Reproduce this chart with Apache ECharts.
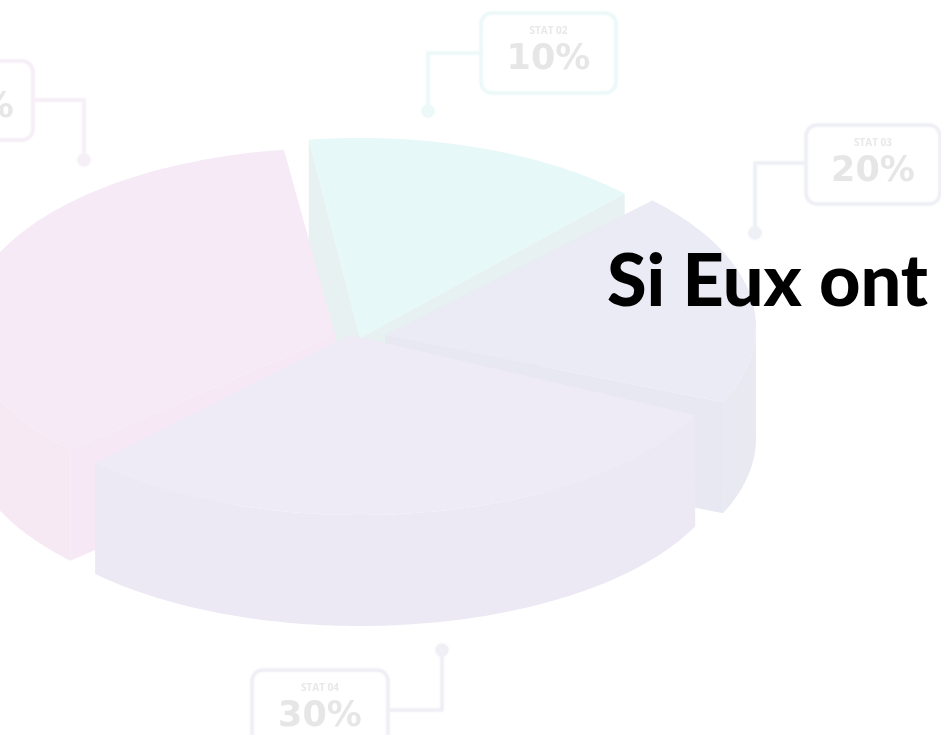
<!DOCTYPE html>
<html style="height: 100%">
<head>
    <meta charset="utf-8">
    <title>Si Eux ont</title>
    <script src="https://cdn.jsdelivr.net/npm/echarts@6/dist/echarts.min.js"></script>
</head>
<body style="height: 100%; margin: 0; background: #fff">
    <div id="chart" style="width: 941px; height: 735px"></div>
    <script>
        // data: visible slice shares, clockwise from the lower left
        const sliceNames = ['STAT 01', 'STAT 02', 'STAT 03', 'STAT 04'];
        const sliceShares = [35, 15, 19, 31];
        const statLabels = ['40%', '10%', '20%', '30%'];

        // exploded slices: rim centre (cx, cy) and the point where the cuts meet (ax, ay)
        const sliceLayout = [
            { cx: 335, cy: 326, ax: 335, ay: 335, ry: 178, top: '#f5eaf5', wall: '#f6e9f4', cut: '#f6e9f5' },
            { cx: 360, cy: 320, ax: 360, ay: 338, ry: 182, top: '#e6f8f7', wall: '#e7f1f2', cut: '#e7f1f2' },
            { cx: 388, cy: 327, ax: 385, ay: 335, ry: 182, top: '#ebebf5', wall: '#e9e9f1', cut: '#e8e8f2' },
            { cx: 360, cy: 345, ax: 350, ay: 335, ry: 170, top: '#eeebf7', wall: '#ece9f4', cut: '#ece9f4' }
        ];
        const drawOrder = [1, 2, 0, 3];
        const RX = 368;
        const DEPTH = 111;
        const START_ANGLE = 136;

        function sliceAngles(index) {
            const total = sliceShares.reduce((sum, v) => sum + v, 0);
            const before = sliceShares.slice(0, index).reduce((sum, v) => sum + v, 0);
            const start = START_ANGLE + before / total * 360;
            return [start, start + sliceShares[index] / total * 360];
        }

        function rimPoint(layout, deg, drop) {
            const t = deg * Math.PI / 180;
            return [layout.cx + RX * Math.cos(t), layout.cy + layout.ry * Math.sin(t) + drop];
        }

        function poly(points, fill) {
            return { type: 'polygon', shape: { points: points }, style: { fill: fill }, silent: true };
        }

        function renderSlice(params, api) {
            const index = api.value(0);
            const layout = sliceLayout[index];
            const [a0, a1] = sliceAngles(index);
            const rim = [];
            for (let a = a0; a < a1; a += 1) rim.push(a);
            rim.push(a1);

            const centre = [layout.ax, layout.ay];
            const centreLow = [layout.ax, layout.ay + DEPTH];
            const children = [];
            // the two cut faces
            [a0, a1].forEach(a => {
                children.push(poly([centre, rimPoint(layout, a, 0), rimPoint(layout, a, DEPTH), centreLow], layout.cut));
            });
            // outer wall, only the stretches turned towards us
            let front = [];
            rim.forEach(a => {
                if (Math.sin(a * Math.PI / 180) > -0.02) front.push(a);
            });
            if (front.length > 1) {
                const upper = front.map(a => rimPoint(layout, a, 0));
                const lower = front.map(a => rimPoint(layout, a, DEPTH)).reverse();
                children.push(poly(upper.concat(lower), layout.wall));
            }
            // top face
            children.push(poly([centre].concat(rim.map(a => rimPoint(layout, a, 0))), layout.top));
            return { type: 'group', children: children };
        }

        // callout boxes around the pie, soft edges like the washed out original
        function callout(o) {
            const line = o.line;
            const textX = o.x + o.w / 2 + (o.dx || 0);
            return [
                {
                    type: 'rect',
                    shape: { x: o.x, y: o.y, width: o.w, height: o.h, r: 11 },
                    style: { fill: 'transparent', stroke: line, lineWidth: 3, shadowBlur: 3, shadowColor: line }
                },
                {
                    type: 'polyline',
                    shape: { points: o.path },
                    style: { fill: 'none', stroke: line, lineWidth: 3, shadowBlur: 3, shadowColor: line }
                },
                {
                    type: 'circle',
                    shape: { cx: o.dot[0], cy: o.dot[1], r: 6.5 },
                    style: { fill: line, shadowBlur: 3, shadowColor: line }
                },
                {
                    type: 'text',
                    style: {
                        x: textX, y: o.y + 18, text: o.name, align: 'center', verticalAlign: 'middle',
                        font: 'bold 10px "Open Sans"', fill: '#e8e8e8', shadowBlur: 3, shadowColor: '#e4e4e4'
                    }
                },
                {
                    type: 'text',
                    style: {
                        x: textX, y: o.y + 47, text: o.label, align: 'center', verticalAlign: 'middle',
                        font: 'bold 35px "DejaVu Sans"', fill: '#e6e6e6', shadowBlur: 3, shadowColor: '#e4e4e4'
                    }
                }
            ];
        }

        const callouts = [
            { x: -103, y: 61, w: 136, h: 79, dx: 7, line: '#f7eff7', path: [[33, 100], [84, 100], [84, 160]], dot: [84, 160], name: sliceNames[0], label: statLabels[0] },
            { x: 481, y: 13, w: 135, h: 80, line: '#edf8f8', path: [[481, 53], [428, 53], [428, 111]], dot: [428, 111], name: sliceNames[1], label: statLabels[1] },
            { x: 806, y: 125, w: 134, h: 79, line: '#eff0f6', path: [[806, 163], [755, 163], [755, 233]], dot: [755, 233], name: sliceNames[2], label: statLabels[2] },
            { x: 252, y: 670, w: 136, h: 80, line: '#f1eff6', path: [[388, 710], [442, 710], [442, 650]], dot: [442, 650], name: sliceNames[3], label: statLabels[3] }
        ];

        const option = {
            animation: false,
            backgroundColor: '#fff',
            title: {
                text: 'Si Eux ont',
                left: 602,
                top: 242,
                textStyle: { fontFamily: 'Lato', fontWeight: 900, fontSize: 72, color: '#000' }
            },
            graphic: callouts.flatMap(callout),
            series: [{
                type: 'custom',
                coordinateSystem: 'none',
                renderItem: renderSlice,
                encode: { value: 0 },
                data: drawOrder.map(i => [i, sliceShares[i]])
            }]
        };

        const chart = echarts.init(document.getElementById('chart'));
        chart.setOption(option);
    </script>
</body>
</html>
